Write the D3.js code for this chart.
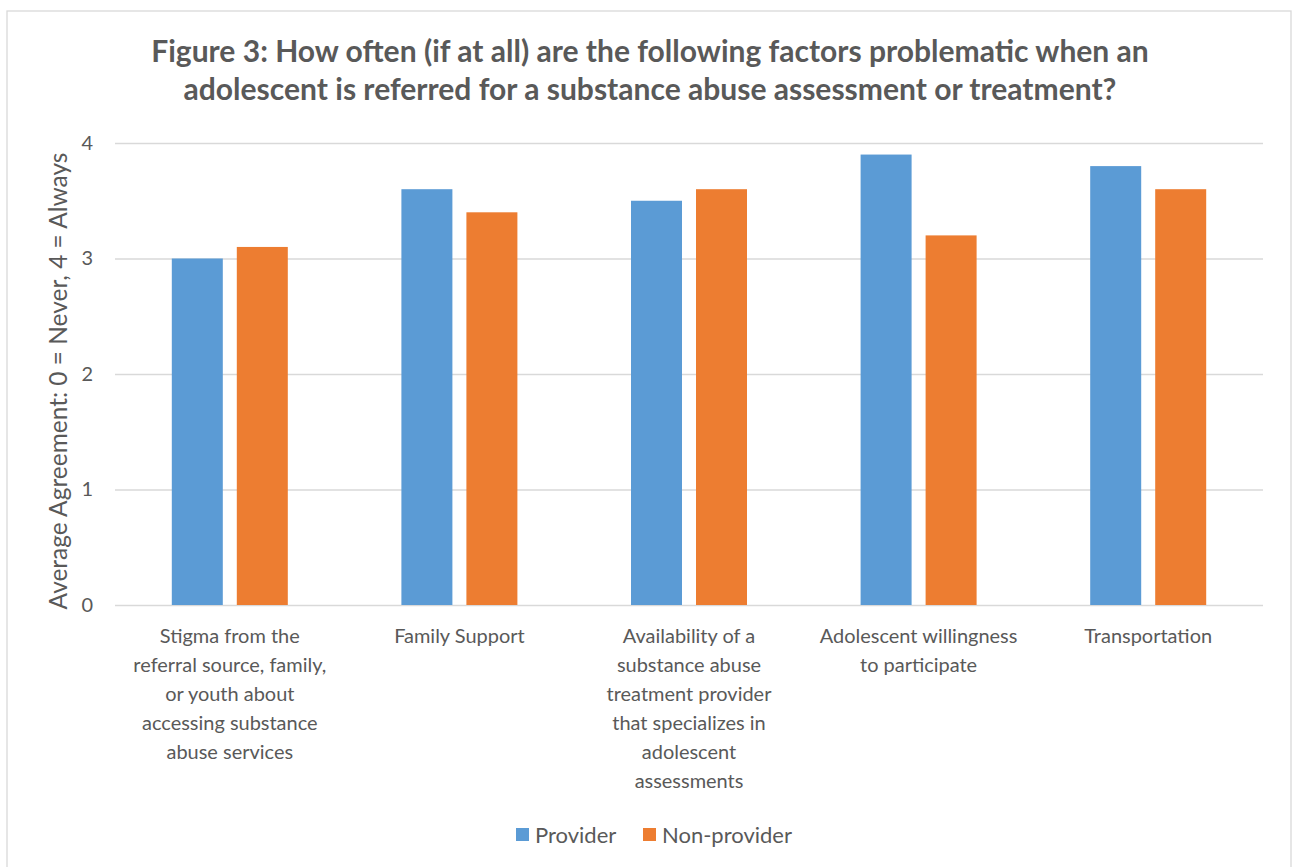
<!DOCTYPE html>
<html>
<head>
<meta charset="utf-8">
<script src="https://cdn.jsdelivr.net/npm/d3@7"></script>
<style>
  html, body { margin: 0; padding: 0; background: #fff; }
  svg { display: block; }
</style>
</head>
<body>
<svg id="chart" width="1292" height="867"></svg>
<script>
// Factors asked about, with wrapped label lines for the category axis
const categories = [
  "Stigma",
  "Family Support",
  "Availability",
  "Adolescent willingness",
  "Transportation"
];
const categoryLines = [
  ["Stigma from the", "referral source, family,", "or youth about", "accessing substance", "abuse services"],
  ["Family Support"],
  ["Availability of a", "substance abuse", "treatment provider", "that specializes in", "adolescent", "assessments"],
  ["Adolescent willingness", "to participate"],
  ["Transportation"]
];
const seriesNames = ["Provider", "Non-provider"];
const providerValues = [3.0, 3.6, 3.5, 3.9, 3.8];
const nonProviderValues = [3.1, 3.4, 3.6, 3.2, 3.6];
const yTicks = [0, 1, 2, 3, 4];
const titleLines = [
  "Figure 3: How often (if at all) are the following factors problematic when an",
  "adolescent is referred for a substance abuse assessment or treatment?"
];
const yTitle = "Average Agreement: 0 = Never, 4 = Always";
const colors = ["#5b9bd5", "#ed7d31"];

const FONT = "Lato, 'Open Sans', sans-serif";
const TEXT = "#595959";

const svg = d3.select("#chart");

// Pick a font size so that a string spans the wanted width
function fitSize(str, weight, target) {
  const t = svg.append("text").attr("font-family", FONT).attr("font-weight", weight)
    .attr("font-size", 100).text(str);
  const len = t.node().getComputedTextLength();
  t.remove();
  return 100 * target / len;
}

// Outer frame
svg.append("rect")
  .attr("x", 7).attr("y", 11).attr("width", 1284).attr("height", 900)
  .attr("fill", "#fff").attr("stroke", "#d9d9d9").attr("stroke-width", 1.3);

const plot = { left: 115, right: 1263, top: 143, bottom: 605 };

const x0 = d3.scaleBand().domain(categories).range([plot.left, plot.right]).padding(0);
const x1 = d3.scaleBand().domain(seriesNames).range([0, 116]).paddingInner(0.2154).paddingOuter(0);
const y = d3.scaleLinear().domain([0, 4]).range([plot.bottom, plot.top]);

// Title
const titleSize = fitSize(titleLines[0], 700, 998);
svg.append("g").selectAll("text").data(titleLines).join("text")
  .attr("x", 650)
  .attr("y", (d, i) => 62 + i * 38)
  .attr("text-anchor", "middle")
  .attr("font-family", FONT).attr("font-weight", 700)
  .attr("font-size", titleSize)
  .attr("fill", TEXT)
  .text(d => d);

// Gridlines
svg.append("g")
  .attr("transform", `translate(${plot.left},0)`)
  .call(d3.axisLeft(y).tickValues(yTicks).tickSize(-(plot.right - plot.left)).tickFormat(""))
  .call(g => g.select(".domain").remove())
  .call(g => g.selectAll("line").attr("stroke", "#d9d9d9").attr("stroke-width", 1.3));

const labelSize = fitSize("referral source, family,", 400, 193);

// Y tick labels
svg.append("g")
  .attr("transform", `translate(${plot.left},0)`)
  .call(d3.axisLeft(y).tickValues(yTicks).tickSize(0).tickPadding(22).tickFormat(d3.format("d")))
  .call(g => g.select(".domain").remove())
  .call(g => g.selectAll("text")
    .attr("font-family", FONT).attr("font-size", labelSize).attr("fill", TEXT));

// Y axis title
const yTitleSize = fitSize(yTitle, 400, 457);
svg.append("text")
  .attr("transform", "translate(67,381) rotate(-90)")
  .attr("text-anchor", "middle")
  .attr("font-family", FONT).attr("font-size", yTitleSize).attr("fill", TEXT)
  .text(yTitle);

// Bars
const rows = categories.map((c, i) => ({
  cat: c,
  vals: [
    { s: seriesNames[0], v: providerValues[i], c: colors[0] },
    { s: seriesNames[1], v: nonProviderValues[i], c: colors[1] }
  ]
}));
const groupOffset = (x0.bandwidth() - 116) / 2;
svg.append("g").selectAll("g").data(rows).join("g")
  .attr("transform", d => `translate(${x0(d.cat) + groupOffset},0)`)
  .selectAll("rect").data(d => d.vals).join("rect")
  .attr("x", d => x1(d.s))
  .attr("width", x1.bandwidth())
  .attr("y", d => y(d.v))
  .attr("height", d => y(0) - y(d.v))
  .attr("fill", d => d.c);

// Category labels
const catG = svg.append("g").selectAll("text").data(categories).join("text")
  .attr("x", d => x0(d) + x0.bandwidth() / 2)
  .attr("y", 636)
  .attr("text-anchor", "middle")
  .attr("font-family", FONT).attr("font-size", labelSize).attr("fill", TEXT);
catG.selectAll("tspan").data((d, i) => categoryLines[i]).join("tspan")
  .attr("x", function () { return this.parentNode.getAttribute("x"); })
  .attr("y", (d, i) => 636 + i * 29)
  .attr("dy", "0.35em")
  .text(d => d);

// Legend
const legendSize = fitSize("Non-provider", 400, 130);
const legendX = [516, 643];
const lg = svg.append("g").selectAll("g").data(seriesNames).join("g")
  .attr("transform", (d, i) => `translate(${legendX[i]},828)`);
lg.append("rect").attr("width", 13).attr("height", 13).attr("fill", (d, i) => colors[i]);
lg.append("text")
  .attr("x", 19).attr("y", 7).attr("dy", "0.35em")
  .attr("font-family", FONT).attr("font-size", legendSize).attr("fill", TEXT)
  .text(d => d);
</script>
</body>
</html>
